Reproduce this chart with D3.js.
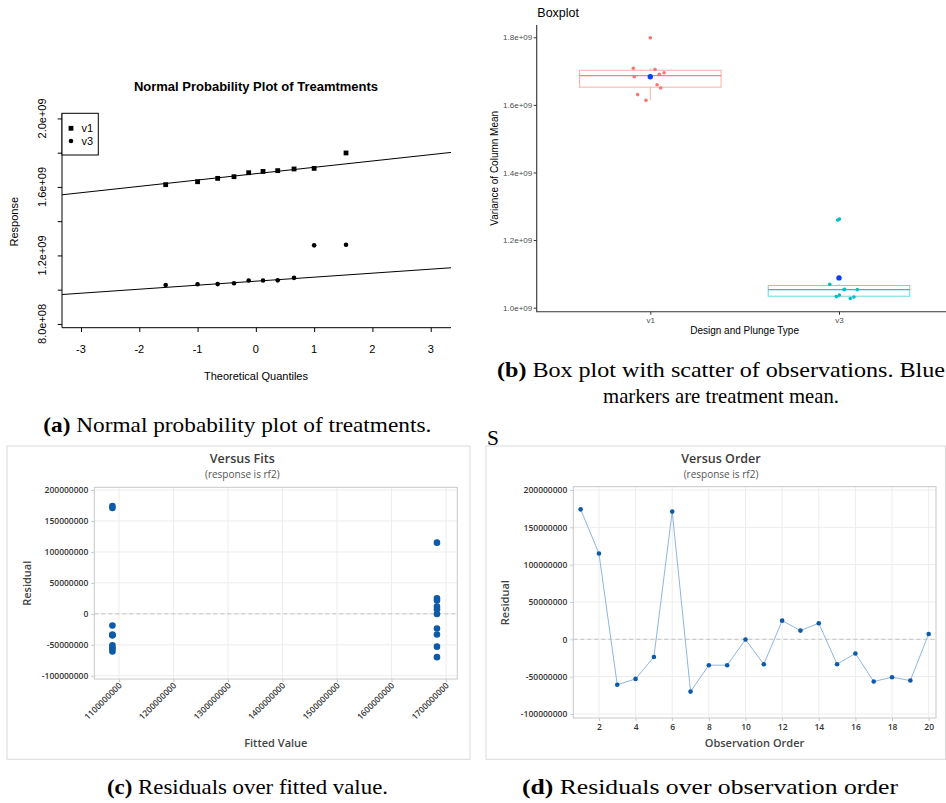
<!DOCTYPE html>
<html>
<head>
<meta charset="utf-8">
<script src="https://cdn.jsdelivr.net/npm/d3@7"></script>
<style>
  html, body { margin: 0; padding: 0; background: #fff; overflow: hidden; }
  svg { display: block; }
</style>
</head>
<body>
<svg id="fig" width="946" height="803"></svg>
<script>
// ---- data ---------------------------------------------------------------
// 20 runs in observation order, treatment and measured response (variance of column mean)
const obsOrder    = [1, 2, 3, 4, 5, 6, 7, 8, 9, 10, 11, 12, 13, 14, 15, 16, 17, 18, 19, 20];
const obsGroup    = ["v3", "v1", "v3", "v1", "v1", "v3", "v1", "v3", "v3", "v1",
                     "v1", "v1", "v1", "v1", "v3", "v3", "v3", "v3", "v3", "v1"];
const obsResponse = [1.2620e9, 1.7984e9, 1.0270e9, 1.6304e9, 1.6598e9, 1.2590e9, 1.6134e9, 1.0533e9, 1.0533e9, 1.6831e9,
                     1.6500e9, 1.7084e9, 1.6951e9, 1.7049e9, 1.0546e9, 1.0690e9, 1.0314e9, 1.0372e9, 1.0327e9, 1.6906e9];
// horizontal jitter of each run in the box plot (fraction of category spacing)
const obsJitter   = [0.002, 0.000, 0.060, -0.067, 0.036, -0.007, -0.023, 0.097, 0.027, -0.085,
                     0.055, -0.090, 0.073, 0.025, 0.030, -0.049, 0.079, 0.002, -0.014, 0.048];

const treatments = ["v1", "v3"];
const treatmentColor = ["#F8766D", "#00BFC4"];

// theoretical normal quantiles for 10 points per treatment
const qqTheory = [-1.547, -1.000, -0.655, -0.375, -0.123, 0.123, 0.375, 0.655, 1.000, 1.547];
const qnorm75 = 0.6745;

// axis ticks
const qqXTicks = [-3, -2, -1, 0, 1, 2, 3];
const qqYTicks = [0.8e9, 1.0e9, 1.2e9, 1.4e9, 1.6e9, 1.8e9, 2.0e9];
const qqYLabelled = [0.8e9, 1.2e9, 1.6e9, 2.0e9];
const boxYTicks = [1.0e9, 1.2e9, 1.4e9, 1.6e9, 1.8e9];
const residTicks = [-100000000, -50000000, 0, 50000000, 100000000, 150000000, 200000000];
const fitTicks = [1100000000, 1200000000, 1300000000, 1400000000, 1500000000, 1600000000, 1700000000];
const orderTicks = [2, 4, 6, 8, 10, 12, 14, 16, 18, 20];

// ---- derived statistics ---------------------------------------------------
const byGroup = treatments.map(t => obsResponse.filter((v, i) => obsGroup[i] === t));
const groupMean = byGroup.map(vs => d3.mean(vs));
const fitted = obsGroup.map(g => groupMean[treatments.indexOf(g)]);
const residual = obsResponse.map((v, i) => v - fitted[i]);

const fmtR = v => v.toExponential(1).replace(/e([+-])(\d)$/, "e$10$2");
const fmtInt = v => String(Math.round(v));

const svg = d3.select("#fig");
const fontSans = "'Liberation Sans', Arial, Helvetica, sans-serif";
const fontMini = "'Open Sans', 'Noto Sans', sans-serif";
const fontSerif = "'Liberation Serif', 'Times New Roman', serif";

// ---- (a) normal probability plot ----------------------------------------
{
  const A = { left: 62, right: 451, top: 113.3, bottom: 327.7 };
  const x = d3.scaleLinear().domain([-3.326, 3.348]).range([A.left, A.right]);
  const y = d3.scaleLinear().domain([0.778e9, 2.03e9]).range([A.bottom, A.top]);
  const g = svg.append("g").attr("font-family", fontSans).attr("fill", "#000");

  g.append("clipPath").attr("id", "clipA").append("rect")
    .attr("x", A.left).attr("y", A.top).attr("width", A.right - A.left).attr("height", A.bottom - A.top);

  g.append("text").attr("x", 256).attr("y", 91).attr("text-anchor", "middle")
    .attr("font-size", 13).attr("font-weight", "bold").text("Normal Probability Plot of Treamtments");

  // reference lines through the quartiles
  byGroup.forEach(vs => {
    const s = vs.slice().sort(d3.ascending);
    const q1 = d3.quantile(s, 0.25), q3 = d3.quantile(s, 0.75);
    const slope = (q3 - q1) / (2 * qnorm75);
    const icpt = q1 + slope * qnorm75;
    const xs = x.domain();
    g.append("line").attr("clip-path", "url(#clipA)")
      .attr("x1", x(xs[0])).attr("y1", y(icpt + slope * xs[0]))
      .attr("x2", x(xs[1])).attr("y2", y(icpt + slope * xs[1]))
      .attr("stroke", "#000").attr("stroke-width", 1);
  });

  // points: squares for v1, circles for v3
  const s1 = byGroup[0].slice().sort(d3.ascending);
  const s3 = byGroup[1].slice().sort(d3.ascending);
  g.selectAll("rect.v1").data(s1).join("rect").attr("class", "v1")
    .attr("x", (d, i) => x(qqTheory[i]) - 2.4).attr("y", d => y(d) - 2.4)
    .attr("width", 4.8).attr("height", 4.8);
  g.selectAll("circle.v3").data(s3).join("circle").attr("class", "v3")
    .attr("cx", (d, i) => x(qqTheory[i])).attr("cy", d => y(d)).attr("r", 2.3);

  // frame (left and bottom)
  g.append("path").attr("d", `M${A.left},${A.top}V${A.bottom}H${A.right}`)
    .attr("fill", "none").attr("stroke", "#000");

  g.append("g").attr("transform", `translate(${A.left},0)`)
    .call(d3.axisLeft(y).tickValues(qqYTicks).tickSize(4.3).tickFormat(""))
    .call(a => a.select(".domain").remove());
  g.append("g").attr("transform", `translate(0,${A.bottom})`)
    .call(d3.axisBottom(x).tickValues(qqXTicks).tickSize(4.3).tickFormat(""))
    .call(a => a.select(".domain").remove());

  g.selectAll("text.ylab").data(qqYLabelled).join("text").attr("class", "ylab")
    .attr("transform", d => `translate(42.3,${y(d)}) rotate(-90)`)
    .attr("text-anchor", "middle").attr("dy", "0.35em").attr("font-size", 11).text(fmtR);
  g.selectAll("text.xlab").data(qqXTicks).join("text").attr("class", "xlab")
    .attr("x", d => x(d)).attr("y", 353.2).attr("text-anchor", "middle")
    .attr("font-size", 11).text(d => d);

  g.append("text").attr("x", 256).attr("y", 379.6).attr("text-anchor", "middle")
    .attr("font-size", 11).text("Theoretical Quantiles");
  g.append("text").attr("transform", "translate(14,221.7) rotate(-90)").attr("dy", "0.35em")
    .attr("text-anchor", "middle").attr("font-size", 11).text("Response");

  // legend
  const lg = g.append("g");
  lg.append("rect").attr("x", A.left).attr("y", A.top).attr("width", 36.3).attr("height", 41.7)
    .attr("fill", "#fff").attr("stroke", "#000");
  lg.append("rect").attr("x", 71 - 2.4).attr("y", 128.3 - 2.4).attr("width", 4.8).attr("height", 4.8);
  lg.append("circle").attr("cx", 71).attr("cy", 141).attr("r", 2.3);
  treatments.forEach((t, i) => lg.append("text").attr("x", 81.5).attr("y", [128.3, 141][i])
    .attr("dy", "0.36em").attr("font-size", 11).text(t));
}

// ---- (b) box plot with jittered observations -----------------------------
{
  const B = { left: 536.7, right: 946, top: 25, bottom: 311.7 };
  const y = d3.scaleLinear().domain([0.988e9, 1.8364e9]).range([B.bottom, B.top]);
  const x = d3.scaleLinear().domain([1, 2]).range([650.3, 839]);
  const g = svg.append("g").attr("font-family", fontSans);

  g.append("text").attr("x", 537.3).attr("y", 17.2).attr("font-size", 12.5).attr("fill", "#000").text("Boxplot");

  byGroup.forEach((vs, gi) => {
    const s = vs.slice().sort(d3.ascending);
    const q1 = d3.quantile(s, 0.25), med = d3.quantile(s, 0.5), q3 = d3.quantile(s, 0.75);
    const iqr = q3 - q1;
    const lo = d3.min(s.filter(v => v >= q1 - 1.5 * iqr));
    const hi = d3.max(s.filter(v => v <= q3 + 1.5 * iqr));
    const cx = x(gi + 1), half = (x(1.375) - x(1));
    const col = treatmentColor[gi];
    g.append("line").attr("x1", cx).attr("x2", cx).attr("y1", y(q3)).attr("y2", y(hi))
      .attr("stroke", col).attr("stroke-opacity", 0.6);
    g.append("line").attr("x1", cx).attr("x2", cx).attr("y1", y(q1)).attr("y2", y(lo))
      .attr("stroke", col).attr("stroke-opacity", 0.6);
    g.append("rect").attr("x", cx - half).attr("y", y(q3)).attr("width", 2 * half).attr("height", y(q1) - y(q3))
      .attr("fill", "#fff").attr("stroke", col).attr("stroke-opacity", 0.6).attr("stroke-width", 1);
    g.append("line").attr("x1", cx - half).attr("x2", cx + half).attr("y1", y(med)).attr("y2", y(med))
      .attr("stroke", col).attr("stroke-width", 1.3).attr("stroke-opacity", 0.9);
  });

  g.selectAll("circle.obs").data(obsResponse).join("circle").attr("class", "obs")
    .attr("cx", (d, i) => x(treatments.indexOf(obsGroup[i]) + 1 + obsJitter[i]))
    .attr("cy", d => y(d)).attr("r", 1.8)
    .attr("fill", (d, i) => treatmentColor[treatments.indexOf(obsGroup[i])]);

  g.selectAll("circle.mean").data(groupMean).join("circle").attr("class", "mean")
    .attr("cx", (d, i) => x(i + 1)).attr("cy", d => y(d)).attr("r", 2.7).attr("fill", "#0d3bff");

  g.append("path").attr("d", `M${B.left},${B.top}V${B.bottom}H${B.right}`)
    .attr("fill", "none").attr("stroke", "#333").attr("stroke-width", 1.1);

  const ya = g.append("g").attr("transform", `translate(${B.left},0)`)
    .call(d3.axisLeft(y).tickValues(boxYTicks).tickSize(3).tickPadding(1.5).tickFormat(fmtR));
  ya.select(".domain").remove();
  ya.selectAll("line").attr("stroke", "#333");
  ya.selectAll("text").attr("fill", "#4d4d4d").attr("font-size", 8).attr("font-family", fontSans);

  const xa = g.append("g").attr("transform", `translate(0,${B.bottom})`)
    .call(d3.axisBottom(x).tickValues([1, 2]).tickSize(3).tickPadding(2.5).tickFormat(d => treatments[d - 1]));
  xa.select(".domain").remove();
  xa.selectAll("line").attr("stroke", "#333");
  xa.selectAll("text").attr("fill", "#4d4d4d").attr("font-size", 8).attr("font-family", fontSans);

  g.append("text").attr("x", 744.6).attr("y", 334.3).attr("text-anchor", "middle")
    .attr("font-size", 10).attr("fill", "#000").text("Design and Plunge Type");
  g.append("text").attr("transform", "translate(494,168.3) rotate(-90)").attr("dy", "0.35em")
    .attr("text-anchor", "middle").attr("font-size", 10).attr("fill", "#000").text("Variance of Column Mean");
}

// ---- shared styling for the residual panels --------------------------------
function residualPanel(frame, titleX, title) {
  const g = svg.append("g").attr("font-family", fontMini);
  g.append("rect").attr("x", frame.x).attr("y", frame.y).attr("width", frame.w).attr("height", frame.h)
    .attr("fill", "#fff").attr("stroke", "#d9d9d9");
  g.append("text").attr("x", titleX).attr("y", 463.3).attr("text-anchor", "middle")
    .attr("font-size", 12.5).attr("font-weight", 600).attr("fill", "#3a3a3a").text(title);
  g.append("text").attr("x", titleX).attr("y", 478).attr("text-anchor", "middle")
    .attr("font-size", 10).attr("fill", "#555").text("(response is rf2)");
  return g;
}

function gridAndAxes(g, P, x, y, xTicks, rotateX) {
  g.append("g").selectAll("line").data(xTicks).join("line")
    .attr("x1", d => x(d)).attr("x2", d => x(d)).attr("y1", P.top).attr("y2", P.bottom)
    .attr("stroke", "#ededed");
  g.append("g").selectAll("line").data(residTicks).join("line")
    .attr("x1", P.left).attr("x2", P.right).attr("y1", d => y(d)).attr("y2", d => y(d))
    .attr("stroke", "#ededed");
  g.append("line").attr("x1", P.left).attr("x2", P.right).attr("y1", y(0)).attr("y2", y(0))
    .attr("stroke", "#c4c4c4").attr("stroke-dasharray", "4,3");
  g.append("rect").attr("x", P.left).attr("y", P.top).attr("width", P.right - P.left).attr("height", P.bottom - P.top)
    .attr("fill", "none").attr("stroke", "#c8c8c8");

  const ya = g.append("g").attr("transform", `translate(${P.left},0)`)
    .call(d3.axisLeft(y).tickValues(residTicks).tickSize(3).tickPadding(3).tickFormat(fmtInt));
  ya.select(".domain").remove();
  ya.selectAll("line").attr("stroke", "#c8c8c8");
  ya.selectAll("text").attr("font-family", fontMini).attr("font-size", 8.5).attr("font-weight", 600).attr("fill", "#333");

  const xa = g.append("g").attr("transform", `translate(0,${P.bottom})`)
    .call(d3.axisBottom(x).tickValues(xTicks).tickSize(3).tickPadding(3).tickFormat(fmtInt));
  xa.select(".domain").remove();
  xa.selectAll("line").attr("stroke", "#c8c8c8");
  const xt = xa.selectAll("text").attr("font-family", fontMini).attr("font-size", 8.5)
    .attr("font-weight", 600).attr("fill", "#333");
  if (rotateX) {
    xt.attr("text-anchor", "end").attr("dy", null).attr("y", null)
      .attr("transform", "translate(3,7) rotate(-45)");
  }
}

// ---- (c) residuals versus fits ---------------------------------------------
{
  const P = { left: 94.3, right: 457.3, top: 487.3, bottom: 679 };
  const x = d3.scaleLinear().domain([1054.7e6, 1720.7e6]).range([P.left, P.right]);
  const y = d3.scaleLinear().domain([-105.3e6, 204.4e6]).range([P.bottom, P.top]);
  const g = residualPanel({ x: 7, y: 446, w: 463, h: 313.3 }, 242.3, "Versus Fits");
  gridAndAxes(g, P, x, y, fitTicks, true);

  g.selectAll("circle.pt").data(residual).join("circle").attr("class", "pt")
    .attr("cx", (d, i) => x(fitted[i])).attr("cy", d => y(d)).attr("r", 3.3).attr("fill", "#0c5aa8");

  g.append("text").attr("x", 275.8).attr("y", 746.8).attr("text-anchor", "middle")
    .attr("font-size", 11).attr("font-weight", 600).attr("fill", "#444").text("Fitted Value");
  g.append("text").attr("transform", "translate(26.7,583.3) rotate(-90)").attr("dy", "0.35em")
    .attr("text-anchor", "middle").attr("font-size", 11).attr("font-weight", 600).attr("fill", "#444").text("Residual");
}

// ---- (d) residuals versus observation order ---------------------------------
{
  const P = { left: 573.3, right: 936, top: 486.7, bottom: 718 };
  const x = d3.scaleLinear().domain([0.6, 20.4]).range([P.left, P.right]);
  const y = d3.scaleLinear().domain([-105.4e6, 204.4e6]).range([P.bottom, P.top]);
  const g = residualPanel({ x: 486, y: 446, w: 459.5, h: 313.3 }, 721, "Versus Order");
  gridAndAxes(g, P, x, y, orderTicks, false);

  const line = d3.line().x((d, i) => x(obsOrder[i])).y(d => y(d));
  g.append("path").datum(residual).attr("d", line).attr("fill", "none")
    .attr("stroke", "#8fb6df").attr("stroke-width", 1);
  g.selectAll("circle.pt").data(residual).join("circle").attr("class", "pt")
    .attr("cx", (d, i) => x(obsOrder[i])).attr("cy", d => y(d)).attr("r", 2.3).attr("fill", "#0c5aa8");

  g.append("text").attr("x", 754.5).attr("y", 746.8).attr("text-anchor", "middle")
    .attr("font-size", 11).attr("font-weight", 600).attr("fill", "#444").text("Observation Order");
  g.append("text").attr("transform", "translate(505,602.7) rotate(-90)").attr("dy", "0.35em")
    .attr("text-anchor", "middle").attr("font-size", 11).attr("font-weight", 600).attr("fill", "#444").text("Residual");
}

// ---- sub-figure captions ----------------------------------------------------
function caption(x, y, label, body, len) {
  const t = svg.append("text").attr("x", x).attr("y", y)
    .attr("font-family", fontSerif).attr("font-size", 21.5).attr("fill", "#000");
  if (len) t.attr("textLength", len).attr("lengthAdjust", "spacingAndGlyphs");
  if (label) t.append("tspan").attr("font-weight", "bold").text(label + " ");
  t.append("tspan").text(body);
}
caption(43.3, 431.7, "(a)", "Normal probability plot of treatments.", 388);
caption(497, 376.7, "(b)", "Box plot with scatter of observations. Blue", 448);
caption(603, 403.3, null, "markers are treatment mean.", 236);
caption(487, 444.5, null, "S", null);
caption(107, 794, "(c)", "Residuals over fitted value.", 281);
caption(522, 794, "(d)", "Residuals over observation order", 376);
</script>
</body>
</html>
